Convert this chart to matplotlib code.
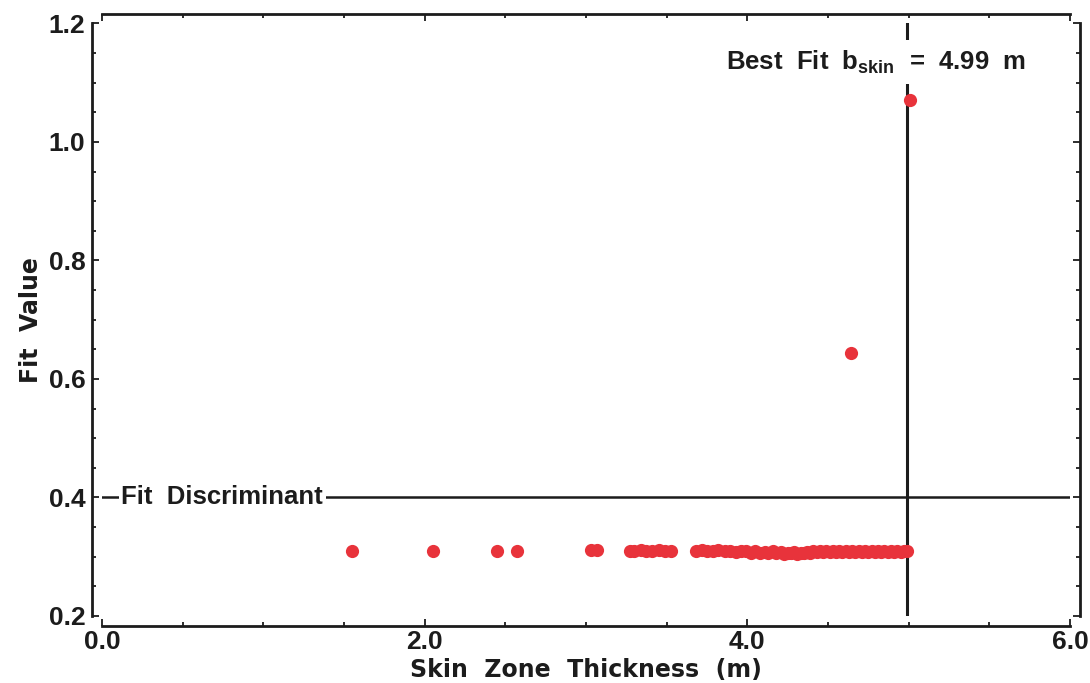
import matplotlib
matplotlib.use("Agg")
import matplotlib.pyplot as plt
from matplotlib.ticker import MultipleLocator, FormatStrFormatter

# Candidate skin-zone thicknesses (m) and their fit values
thickness = [1.55, 2.05, 2.45, 2.57, 3.03, 3.07,
             3.27, 3.30, 3.34, 3.37, 3.41, 3.45, 3.49, 3.53,
             3.68, 3.72, 3.75, 3.79, 3.82, 3.86, 3.89, 3.93, 3.96, 3.99,
             4.02, 4.05, 4.08, 4.11, 4.13, 4.16, 4.18, 4.21, 4.23, 4.25,
             4.27, 4.29, 4.31, 4.33, 4.35, 4.37, 4.39, 4.41, 4.43, 4.45,
             4.47, 4.49, 4.51, 4.53, 4.55, 4.57, 4.59, 4.61, 4.63, 4.65,
             4.67, 4.69, 4.71, 4.73, 4.75, 4.77, 4.79, 4.81, 4.83, 4.85,
             4.87, 4.89, 4.91, 4.93, 4.95, 4.97, 4.99,
             4.64, 5.01]
fit_value = [0.310, 0.310, 0.310, 0.309, 0.311, 0.311,
             0.310, 0.310, 0.311, 0.310, 0.310, 0.311, 0.310, 0.310,
             0.310, 0.311, 0.309, 0.310, 0.311, 0.309, 0.310, 0.308, 0.310, 0.309,
             0.307, 0.309, 0.306, 0.308, 0.306, 0.309, 0.306, 0.308, 0.305, 0.307,
             0.306, 0.308, 0.305, 0.307, 0.306, 0.308, 0.307, 0.309, 0.308, 0.309,
             0.308, 0.310, 0.308, 0.309, 0.308, 0.310, 0.308, 0.309, 0.308, 0.310,
             0.308, 0.309, 0.308, 0.310, 0.308, 0.309, 0.308, 0.310, 0.308, 0.309,
             0.308, 0.309, 0.308, 0.309, 0.308, 0.309, 0.309,
             0.644, 1.071]

best_fit = 4.99
discriminant = 0.4

FONT = "Liberation Sans"
HEAVY = "DejaVu Sans"
INK = "#1c1c1c"

fig = plt.figure(figsize=(10.9, 6.83), dpi=100)
ax = fig.add_axes([0.0936, 0.0981, 0.888, 0.8675])
ax.set_xlim(0, 6)
ax.set_ylim(0.2, 1.2)

# reference lines
ax.axvline(best_fit, color=INK, lw=2.2, zorder=2)
ax.axhline(discriminant, color=INK, lw=1.8, zorder=2)

# data points
ax.plot(thickness, fit_value, "o", color="#e8333b", ms=9.5, mec="none",
        zorder=3, clip_on=False)

# annotations with white backing so the lines break around them
ax.text(0.12, discriminant, "Fit  Discriminant", fontfamily=FONT,
        fontweight="bold", fontsize=18.5, color=INK, ha="left", va="center",
        bbox=dict(facecolor="white", edgecolor="none", pad=2), zorder=4)
ax.text(4.80, 1.135, r"Best  Fit  b$_{\mathregular{skin}}$  =  4.99  m",
        fontfamily=FONT, fontweight="bold", fontsize=18.5, color=INK,
        ha="center", va="center",
        bbox=dict(facecolor="white", edgecolor="none", pad=6), zorder=4)

# axes styling
for side in ["left", "right", "top", "bottom"]:
    ax.spines[side].set_position(("outward", 7))
    ax.spines[side].set_linewidth(2.0)
    ax.spines[side].set_color(INK)

ax.xaxis.set_major_locator(MultipleLocator(2.0))
ax.xaxis.set_minor_locator(MultipleLocator(0.5))
ax.yaxis.set_major_locator(MultipleLocator(0.2))
ax.yaxis.set_minor_locator(MultipleLocator(0.05))
ax.xaxis.set_major_formatter(FormatStrFormatter("%.1f"))
ax.yaxis.set_major_formatter(FormatStrFormatter("%.1f"))

ax.tick_params(which="both", direction="in", top=True, right=True,
               color=INK, width=1.3)
ax.tick_params(which="major", length=5)
ax.tick_params(which="minor", length=3)
ax.tick_params(axis="x", pad=3)
ax.tick_params(axis="y", pad=5)
for lbl in ax.get_xticklabels() + ax.get_yticklabels():
    lbl.set_fontfamily(FONT)
    lbl.set_fontweight("bold")
    lbl.set_fontsize(19)
    lbl.set_color(INK)

ax.set_xlabel("Skin  Zone  Thickness  (m)", fontfamily=HEAVY,
              fontweight="heavy", fontsize=17, color=INK, labelpad=3)
ax.set_ylabel("Fit  Value", fontfamily=HEAVY, fontweight="heavy",
              fontsize=17, color=INK, labelpad=4)

fig.savefig("out.png", dpi=100, facecolor="white")
